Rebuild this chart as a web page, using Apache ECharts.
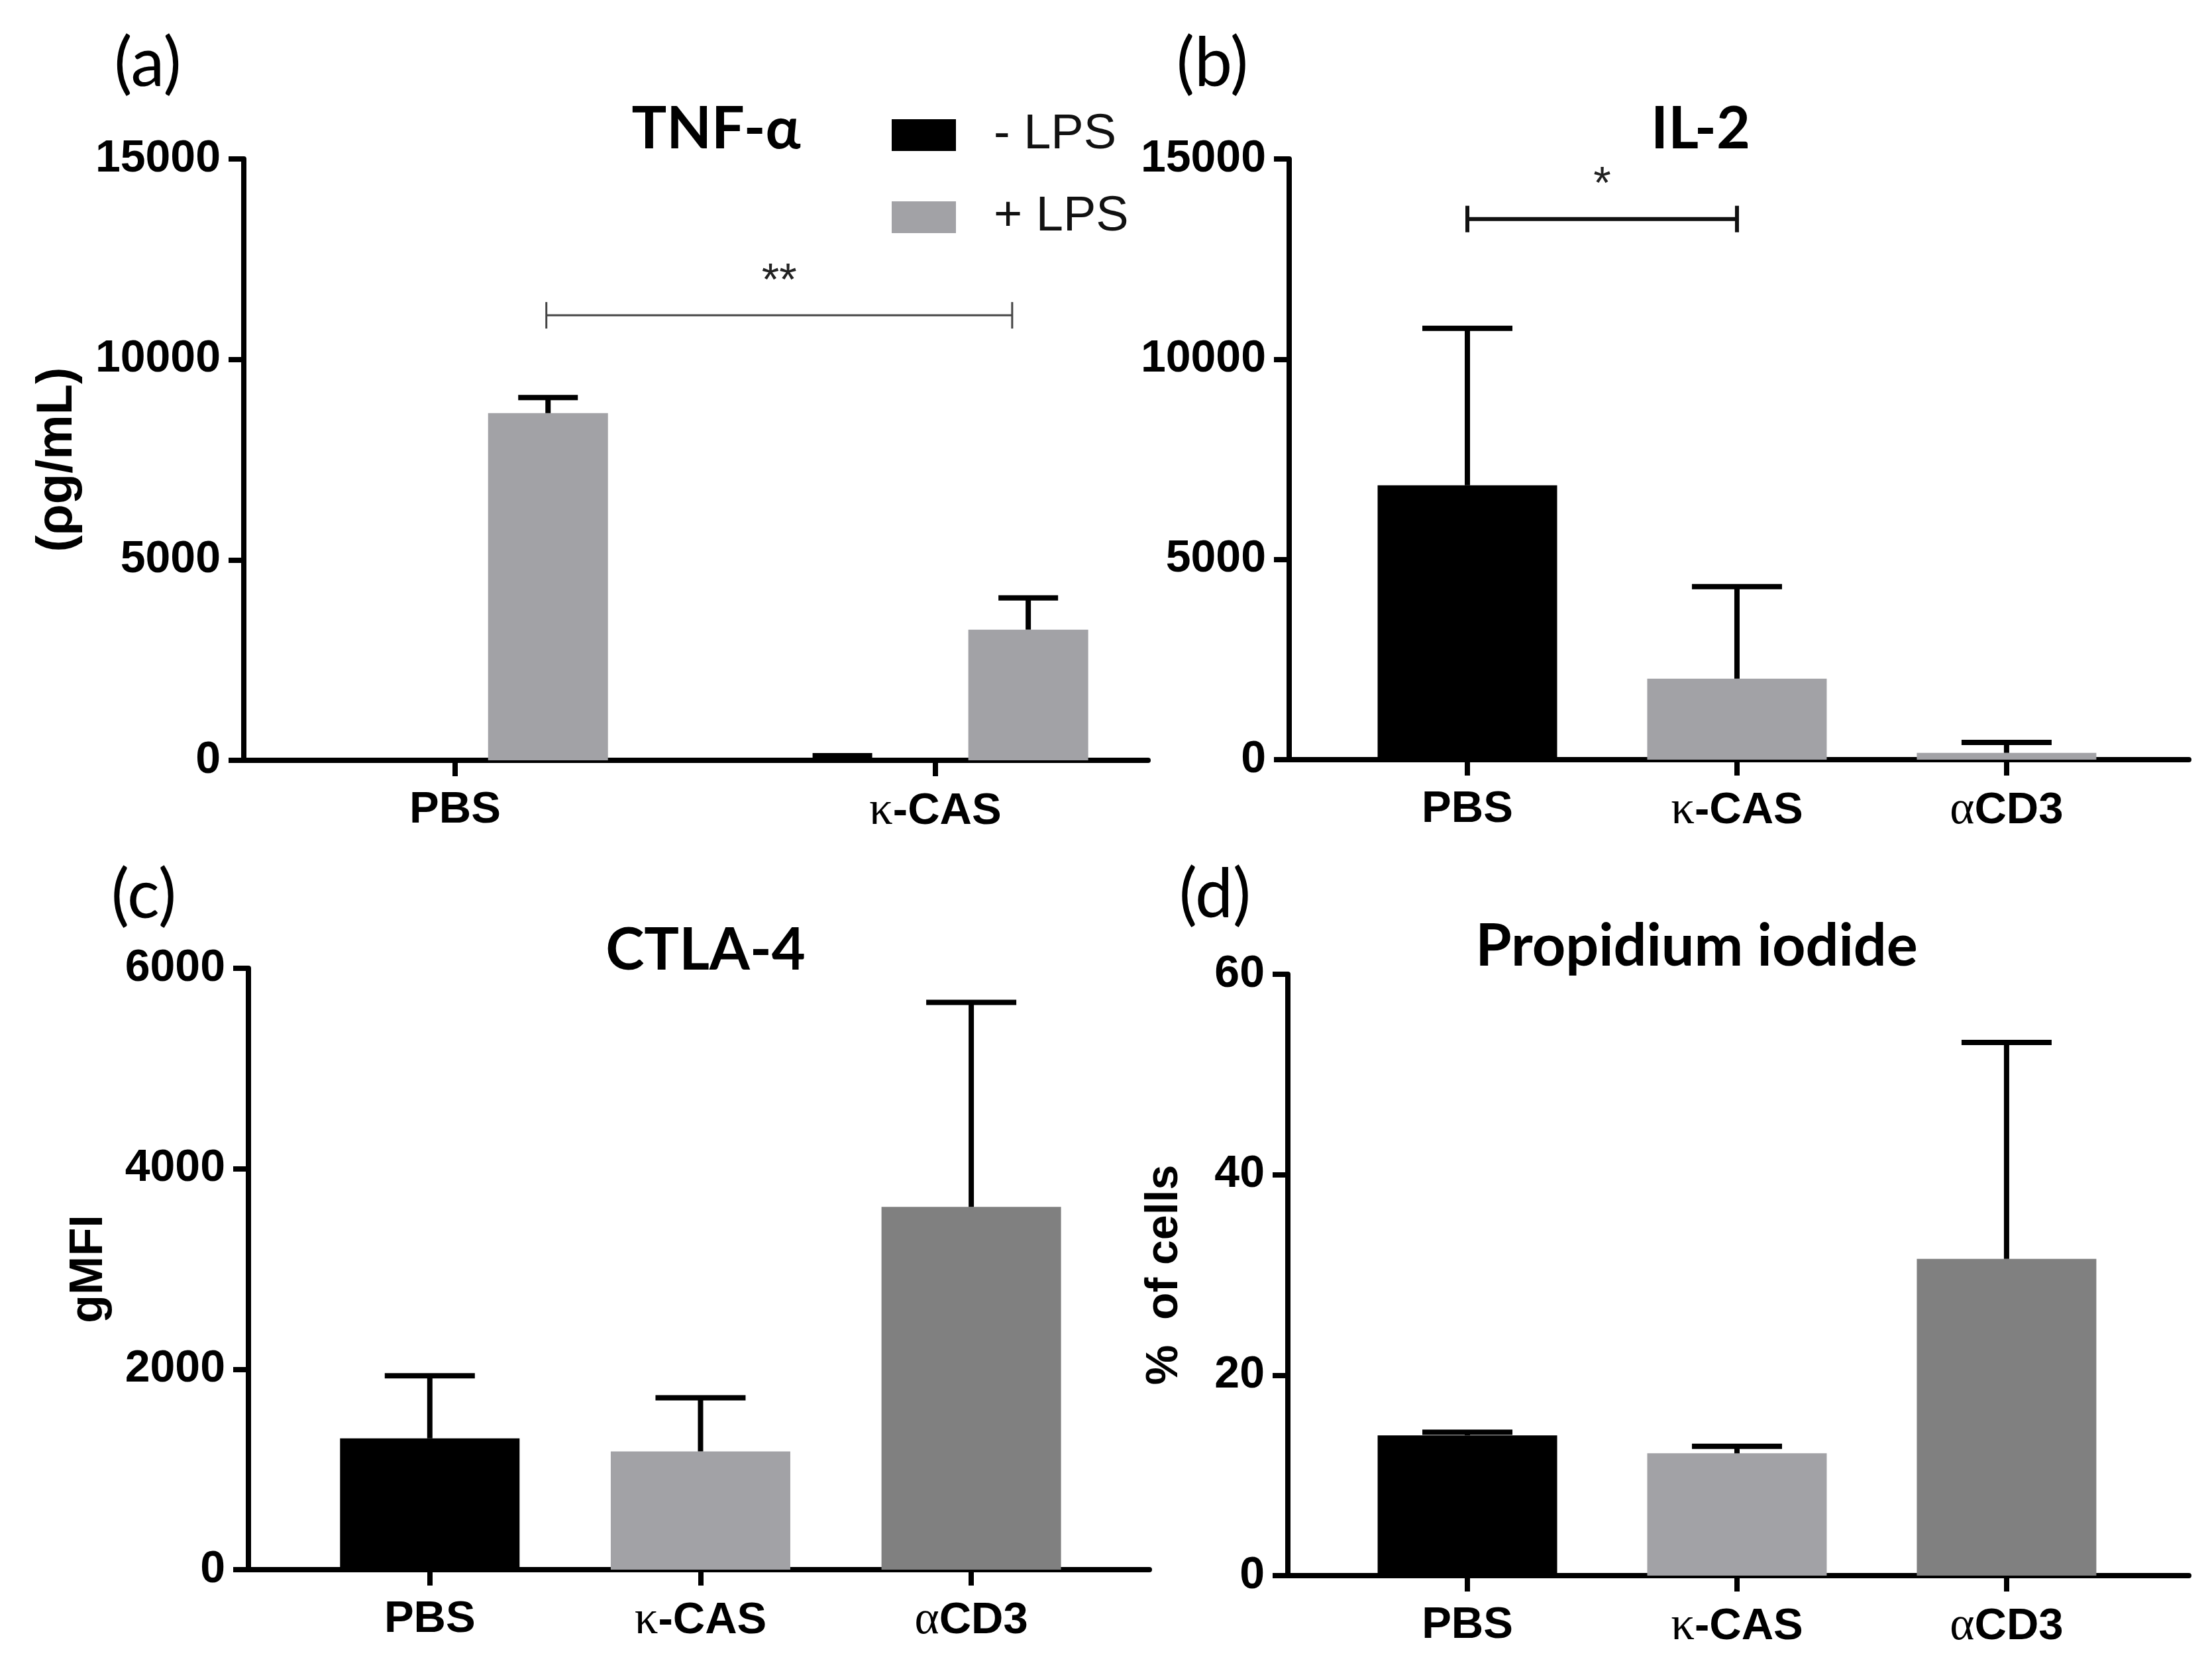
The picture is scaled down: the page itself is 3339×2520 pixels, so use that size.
<!DOCTYPE html>
<html><head><meta charset="utf-8">
<script src="https://cdn.jsdelivr.net/npm/echarts@6/dist/echarts.min.js"></script>
<style>html,body{margin:0;padding:0;background:#fff}#c{width:3339px;height:2520px}</style>
</head><body><div id="c"></div>
<script>
// ---------------- data ----------------
const tnfCategories = ['PBS', 'κ-CAS'];
const tnfMinusLPS = [0, 20];
const tnfMinusLPSErr = [0, 95];
const tnfPlusLPS = [8660, 3260];
const tnfPlusLPSErr = [390, 790];
const topTicks = [0, 5000, 10000, 15000];

const groupCategories = ['PBS', 'κ-CAS', 'αCD3'];
const il2Values = [6850, 2020, 170];
const il2Err = [3920, 2300, 260];
const ctla4Values = [1310, 1180, 3620];
const ctla4Err = [625, 535, 2040];
const ctlaTicks = [0, 2000, 4000, 6000];
const piValues = [14.0, 12.2, 31.6];
const piErr = [0.3, 0.7, 21.6];
const piTicks = [0, 20, 40, 60];

const sigTNF = [[0.19, 1.16, 11100, '**']];
const sigIL2 = [[0, 1, 13500, '*']];

// ---------------- style ----------------
const SANS = "'Liberation Sans', Arial, sans-serif";
const SERIF = "'Liberation Serif', 'Times New Roman', serif";
const TITLE = "Lato, 'Open Sans', sans-serif";
const AX_W = 8, ERR_W = 8;
const LIGHT = '#a2a2a6', DARK = '#808080';
const BAR_A = 181, GAP_A = 0.55, BAR_B = 271;
const OFF_A = (BAR_A + BAR_A * GAP_A) / 2;

function richLabel(name) {
  if (name[0] === 'κ' || name[0] === 'α') return '{s|' + name[0] + '}{b|' + name.slice(1) + '}';
  return '{b|' + name + '}';
}
function xAxisFor(gridIndex, cats, min, max) {
  const idx = cats.map((c, i) => i);
  return {
    type: 'value', gridIndex, min, max,
    splitLine: {show: false},
    axisLine: {show: true, onZero: false, lineStyle: {color: '#000', width: AX_W}},
    axisTick: {show: true, customValues: idx, length: 24, lineStyle: {color: '#000', width: AX_W}},
    axisLabel: {
      customValues: idx, margin: 42,
      formatter: v => richLabel(cats[Math.round(v)] || ''),
      rich: {
        b: {fontFamily: SANS, fontWeight: 'bold', fontSize: 67, color: '#000'},
        s: {fontFamily: SERIF, fontWeight: 'normal', fontSize: 71, color: '#000'}
      }
    }
  };
}
function yAxisFor(gridIndex, ticks, name, nameGap, nameSize) {
  return {
    type: 'value', gridIndex, min: ticks[0], max: ticks[ticks.length - 1], interval: ticks[1] - ticks[0],
    splitLine: {show: false},
    axisLine: {show: true, onZero: false, lineStyle: {color: '#000', width: AX_W}},
    axisTick: {show: true, length: 23, lineStyle: {color: '#000', width: AX_W}},
    axisLabel: {margin: 35, fontFamily: SANS, fontWeight: 'bold', fontSize: 68, color: '#000',
      formatter: v => String(v)},
    name, nameLocation: 'middle', nameGap, nameRotate: 90,
    nameTextStyle: {fontFamily: SANS, fontWeight: 'bold', fontSize: nameSize, color: '#000'}
  };
}
function errRender(offset, capHalf) {
  return function (params, api) {
    const x = api.value(0), m = api.value(1), e = api.value(2);
    if (!e) return null;
    const p0 = api.coord([x, m]);
    const p1 = api.coord([x, m + e]);
    const cx = p0[0] + offset;
    const st = {stroke: '#000', lineWidth: ERR_W};
    return {type: 'group', children: [
      {type: 'line', shape: {x1: cx, y1: p0[1], x2: cx, y2: p1[1]}, style: st},
      {type: 'line', shape: {x1: cx - capHalf, y1: p1[1], x2: cx + capHalf, y2: p1[1]}, style: st}
    ]};
  };
}
function sigRender(lineW, color, fontSize, textGap) {
  return function (params, api) {
    const a = api.coord([api.value(0), api.value(2)]);
    const b = api.coord([api.value(1), api.value(2)]);
    const st = {stroke: color, lineWidth: lineW};
    const t = 20;
    return {type: 'group', children: [
      {type: 'line', shape: {x1: a[0], y1: a[1], x2: b[0], y2: b[1]}, style: st},
      {type: 'line', shape: {x1: a[0], y1: a[1] - t, x2: a[0], y2: a[1] + t}, style: st},
      {type: 'line', shape: {x1: b[0], y1: b[1] - t, x2: b[0], y2: b[1] + t}, style: st},
      {type: 'text', style: {text: api.value(3), x: (a[0] + b[0]) / 2, y: a[1] - textGap,
        textAlign: 'center', textVerticalAlign: 'middle', fill: '#222',
        font: 'normal ' + fontSize + 'px ' + SANS}}
    ]};
  };
}
function errData(vals, errs) { return vals.map((v, i) => [i, v, errs[i]]); }
function barData(vals) { return vals.map((v, i) => [i, v]); }
function title(text, x, y, bold, size) {
  return {text, left: x, top: y, textAlign: 'center', textVerticalAlign: 'middle', padding: 0,
    textStyle: {fontFamily: TITLE, fontWeight: bold ? 'bold' : 'normal', fontSize: size, color: '#000'}};
}

const chart = echarts.init(document.getElementById('c'), null, {renderer: 'canvas'});
const option = {
  backgroundColor: '#fff',
  animation: false,
  title: [
    title('(a)', 223, 97, false, 102), title('TNF-α', 1081, 196, true, 88),
    title('(b)', 1830, 97, false, 102), title('IL-2', 2567, 196, true, 88),
    title('(c)', 217, 1353, false, 102), title('CTLA-4', 1065, 1436, true, 88),
    title('(d)', 1834, 1352, false, 102), title('Propidium iodide', 2561, 1430, true, 88)
  ],
  legend: {
    data: ['- LPS', '+ LPS'], orient: 'vertical', left: 1346, top: 167,
    itemWidth: 97, itemHeight: 48, itemGap: 50, icon: 'rect', padding: 0,
    textStyle: {fontFamily: SANS, fontSize: 74, color: '#111', padding: [0, 0, 0, 52]}
  },
  grid: [
    {left: 368, top: 240, width: 1365, height: 908, outerBoundsMode: 'none'},
    {left: 1946, top: 240, width: 1358, height: 907, outerBoundsMode: 'none'},
    {left: 375, top: 1462, width: 1360, height: 908, outerBoundsMode: 'none'},
    {left: 1944, top: 1471, width: 1360, height: 908, outerBoundsMode: 'none'}
  ],
  xAxis: [
    xAxisFor(0, tnfCategories, -0.44, 1.443),
    xAxisFor(1, groupCategories, -0.661, 2.676),
    xAxisFor(2, groupCategories, -0.670, 2.658),
    xAxisFor(3, groupCategories, -0.666, 2.676)
  ],
  yAxis: [
    yAxisFor(0, topTicks, '(ρg/mL)', 243, 76),
    yAxisFor(1, topTicks, '', 200, 70),
    yAxisFor(2, ctlaTicks, 'gMFI', 205, 70),
    yAxisFor(3, piTicks, '%  of cells', 152, 68)
  ],
  series: [
    {name: '- LPS', type: 'bar', xAxisIndex: 0, yAxisIndex: 0, data: barData(tnfMinusLPS),
      barWidth: BAR_A, barGap: (GAP_A * 100) + '%', itemStyle: {color: '#000'}},
    {name: '+ LPS', type: 'bar', xAxisIndex: 0, yAxisIndex: 0, data: barData(tnfPlusLPS),
      barWidth: BAR_A, barGap: (GAP_A * 100) + '%', itemStyle: {color: LIGHT}},
    {type: 'custom', xAxisIndex: 0, yAxisIndex: 0, data: errData(tnfMinusLPS, tnfMinusLPSErr),
      renderItem: errRender(-OFF_A, 45), encode: {x: 0, y: 1}, z: 5},
    {type: 'custom', xAxisIndex: 0, yAxisIndex: 0, data: errData(tnfPlusLPS, tnfPlusLPSErr),
      renderItem: errRender(OFF_A, 45), encode: {x: 0, y: 1}, z: 5},
    {type: 'custom', xAxisIndex: 0, yAxisIndex: 0, data: sigTNF,
      renderItem: sigRender(3, '#444', 68, 50), encode: {x: [0, 1], y: 2}, z: 5},

    {type: 'bar', xAxisIndex: 1, yAxisIndex: 1, data: barData(il2Values), barWidth: BAR_B,
      itemStyle: {color: p => [ '#000', LIGHT, LIGHT ][p.dataIndex]}},
    {type: 'custom', xAxisIndex: 1, yAxisIndex: 1, data: errData(il2Values, il2Err),
      renderItem: errRender(0, 68), encode: {x: 0, y: 1}, z: 5},
    {type: 'custom', xAxisIndex: 1, yAxisIndex: 1, data: sigIL2,
      renderItem: sigRender(6, '#111', 68, 50), encode: {x: [0, 1], y: 2}, z: 5},

    {type: 'bar', xAxisIndex: 2, yAxisIndex: 2, data: barData(ctla4Values), barWidth: BAR_B,
      itemStyle: {color: p => [ '#000', LIGHT, DARK ][p.dataIndex]}},
    {type: 'custom', xAxisIndex: 2, yAxisIndex: 2, data: errData(ctla4Values, ctla4Err),
      renderItem: errRender(0, 68), encode: {x: 0, y: 1}, z: 5},

    {type: 'bar', xAxisIndex: 3, yAxisIndex: 3, data: barData(piValues), barWidth: BAR_B,
      itemStyle: {color: p => [ '#000', LIGHT, DARK ][p.dataIndex]}},
    {type: 'custom', xAxisIndex: 3, yAxisIndex: 3, data: errData(piValues, piErr),
      renderItem: errRender(0, 68), encode: {x: 0, y: 1}, z: 5}
  ]
};
chart.setOption(option);
</script></body></html>
